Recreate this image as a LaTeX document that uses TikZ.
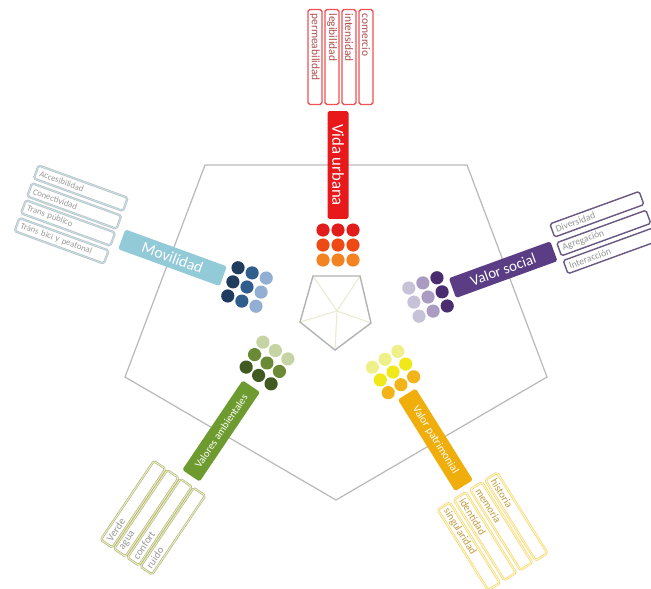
\documentclass[tikz,border=0pt]{standalone}
\usepackage{fontspec}
\setmainfont{Carlito}
\usetikzlibrary{positioning}
\definecolor{vured}{HTML}{E8191A}
\definecolor{vudotA}{HTML}{E21B1B}
\definecolor{vudotB}{HTML}{EE4A16}
\definecolor{vudotC}{HTML}{F38322}
\definecolor{moblue}{HTML}{93CAD8}
\definecolor{modotA}{HTML}{1F3B5E}
\definecolor{modotB}{HTML}{2F5D8C}
\definecolor{modotC}{HTML}{93AED3}
\definecolor{vspurple}{HTML}{5A3D84}
\definecolor{vsdotA}{HTML}{4A2D6E}
\definecolor{vsdotB}{HTML}{A99BC2}
\definecolor{vsdotC}{HTML}{C8C2D8}
\definecolor{vagreen}{HTML}{6E9B2F}
\definecolor{vadotA}{HTML}{405A22}
\definecolor{vadotB}{HTML}{6A8A36}
\definecolor{vadotC}{HTML}{C5D4A2}
\definecolor{vpyellow}{HTML}{F0AE0C}
\definecolor{vpdotA}{HTML}{F2B418}
\definecolor{vpdotB}{HTML}{F0E818}
\definecolor{vpdotC}{HTML}{F0F08A}
\tikzset{
    % bar with the name of a branch
    titlebar/.style={
           rectangle,
           rounded corners=1pt,
           minimum width=2.16cm,
           minimum height=0.42cm,
           inner sep=0pt,
           text=white,
           transform shape},
    % small box with one item
    itembox/.style={
           rectangle,
           rounded corners=1pt,
           minimum width=1.9cm,
           minimum height=0.28cm,
           text width=1.74cm,
           align=left,
           inner sep=0pt,
           fill=white,
           font=\fontsize{6}{6}\selectfont,
           transform shape},
    flip/.style={rotate=180},
    twoline/.style={line width=0.35pt, double distance=0.55pt}
}
\begin{document}
\begin{tikzpicture}[x=0.02cm,y=0.02cm]
\useasboundingbox (0,0) rectangle (651,-588);
% outer and inner pentagon
\draw[gray!55, line width=0.7pt] (205,-165) -- (467,-165) -- (547,-377) -- (336,-500) -- (125,-377) -- cycle;
\coordinate (mid) at (337,-311);
\foreach \p in {(313,-276),(360,-276),(371,-323),(335,-350),(300,-322)}
  \draw[yellow!40!gray!30, line width=0.6pt] (mid) -- \p;
\draw[gray!60, line width=0.8pt] (313,-276) -- (360,-276) -- (371,-323) -- (335,-350) -- (300,-322) -- cycle;

% Vida urbana
\begin{scope}[shift={(338,-245)},rotate=90]
  \foreach \r/\c in {15/vudotA,0/vudotB,-15/vudotC}
    \foreach \s in {-15,0,15}
      \fill[\c] (\r,\s) circle (6.6);
  \node[titlebar,flip,fill=vured,font=\fontsize{9.5}{10}\selectfont] (vubar) at (80,0) {Vida urbana};
  \begin{scope}[every node/.style={itembox,flip,draw=vured!75,line width=0.8pt,text=red!40!gray,font=\fontsize{6.5}{7}\selectfont}]
    \node (vu1) at (188,23) {permeabilidad};
    \node (vu2) at (188,6) {legibilidad};
    \node (vu3) at (188,-11) {intensidad};
    \node (vu4) at (188,-28) {comercio};
  \end{scope}
\end{scope}

% Movilidad
\begin{scope}[shift={(247,-287)},rotate=160]
  \foreach \r/\c in {15/modotA,0/modotB,-15/modotC}
    \foreach \s in {-15,0,15}
      \fill[\c] (\r,\s) circle (6.6);
  \node[titlebar,flip,fill=moblue,font=\fontsize{9}{10}\selectfont] (mobar) at (80,-2) {Movilidad};
  \begin{scope}[every node/.style={itembox,flip,twoline,draw=gray!50,double=moblue!60,text=gray!80,font=\fontsize{5}{6}\selectfont}]
    \node (mo1) at (190,-36) {Accesibilidad};
    \node (mo2) at (190,-17) {Conectividad};
    \node (mo3) at (190,1) {Trans público};
    \node (mo4) at (190,20) {Tráns bici y peatonal};
  \end{scope}
\end{scope}

% Valor social
\begin{scope}[shift={(428,-297)},rotate=20]
  \foreach \r/\c in {15/vsdotA,0/vsdotB,-15/vsdotC}
    \foreach \s in {-15,0,15}
      \fill[\c] (\r,\s) circle (6.6);
  \node[titlebar,fill=vspurple,font=\fontsize{8.5}{10}\selectfont] (vsbar) at (80,0) {Valor social};
  \begin{scope}[every node/.style={itembox,draw=vspurple!60!gray,line width=0.8pt,text=gray!85,font=\fontsize{5.5}{6}\selectfont}]
    \node (vs1) at (187,20) {Diversidad};
    \node (vs2) at (187,0) {Agregación};
    \node (vs3) at (187,-19) {Interacción};
  \end{scope}
\end{scope}

% Valores ambientales
\begin{scope}[shift={(267,-363)},rotate=236]
  \foreach \r/\c in {15/vadotA,0/vadotB,-15/vadotC}
    \foreach \s in {-15,0,15}
      \fill[\c] (\r,\s) circle (6.6);
  \node[titlebar,flip,fill=vagreen,font=\fontsize{6}{7}\selectfont] (vabar) at (82,0) {Valores ambientales};
  \begin{scope}[every node/.style={itembox,flip,twoline,draw=gray!65,double=vagreen!25!yellow!45,text=gray!80}]
    \node (va1) at (192,-32) {Verde};
    \node (va2) at (192,-16) {agua};
    \node (va3) at (192,0) {confort};
    \node (va4) at (192,16) {ruido};
  \end{scope}
\end{scope}

% Valor patrimonial
\begin{scope}[shift={(393,-372)},rotate=302]
  \foreach \r/\c in {15/vpdotA,0/vpdotB,-15/vpdotC}
    \foreach \s in {-15,0,15}
      \fill[\c] (\r,\s) circle (6.6);
  \node[titlebar,fill=vpyellow,font=\fontsize{6.3}{7}\selectfont] (vpbar) at (80,0) {Valor patrimonial};
  \begin{scope}[every node/.style={itembox,twoline,draw=vpyellow!60,double=yellow!25,text=vpyellow!60!gray}]
    \node (vp1) at (188,-28) {singularidad};
    \node (vp2) at (188,-9) {identidad};
    \node (vp3) at (188,10) {memoria};
    \node (vp4) at (188,28) {historia};
  \end{scope}
\end{scope}
\end{tikzpicture}
\end{document}
